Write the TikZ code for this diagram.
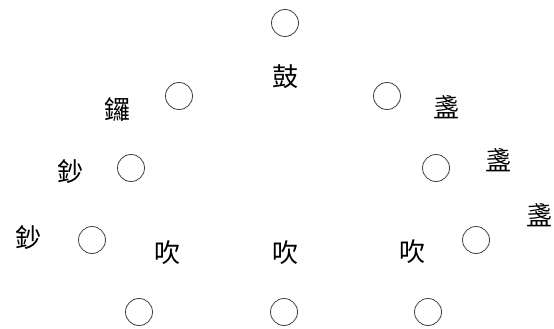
\documentclass[tikz,border=0pt]{standalone}
\usepackage{fontspec}
\newfontfamily\cjk{Noto Sans CJK TC}
\usepackage{xcolor}

\begin{document}
\begin{tikzpicture}[x=1pt, y=-1pt,
  seat/.style={draw=black!75, line width=0.8pt, circle, minimum size=27pt, inner sep=0pt},
  instr/.style={font=\cjk\fontsize{26}{26}\selectfont, inner sep=0pt}]
  				\useasboundingbox (0, 0) rectangle (554, 329);
  				% seats
  				\node[seat] (top) at (285, 23) {};
  				\node[seat] (lA) at (179, 96) {};
  				\node[seat] (lB) at (131, 168) {};
  				\node[seat] (lC) at (92, 240) {};
  				\node[seat] (rA) at (387, 96) {};
  				\node[seat] (rB) at (436, 168) {};
  				\node[seat] (rC) at (476, 240) {};
  				\node[seat] (bL) at (139, 312) {};
  				\node[seat] (bM) at (284, 312) {};
  				\node[seat] (bR) at (428, 312) {};
  				% instruments
  				\node[instr] (gu) at (285, 77) {鼓};
  				\node[instr] (luo) at (117, 110) {鑼};
  				\node[instr] (chaoA) at (70, 172) {鈔};
  				\node[instr] (chaoB) at (29, 238) {鈔};
  				\node[instr] (zhanA) at (446, 107) {盞};
  				\node[instr] (zhanB) at (498, 160) {盞};
  				\node[instr] (zhanC) at (539, 215) {盞};
  				\node[instr] (chuiL) at (167, 253) {吹};
  				\node[instr] (chuiM) at (285, 253) {吹};
  				\node[instr] (chuiR) at (412, 252) {吹};
			\end{tikzpicture}
\end{document}
